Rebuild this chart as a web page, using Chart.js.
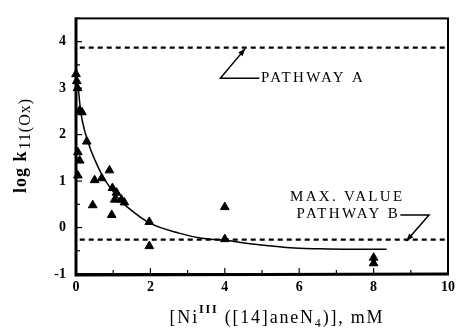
<!DOCTYPE html>
<html>
<head>
<meta charset="utf-8">
<script src="https://cdn.jsdelivr.net/npm/chart.js@4.4.1/dist/chart.umd.min.js"></script>
<style>
  html, body { margin: 0; padding: 0; background: #fff; }
  #wrap { width: 460px; height: 328px; position: relative; }
</style>
</head>
<body>
<div id="wrap"><canvas id="chart"></canvas></div>
<script>
// measured log k11(Ox) values vs [Ni(III)] concentration (mM)
const concX = [0.0, 0.02, 0.04, 0.1, 0.16, 0.29, 0.05, 0.1, 0.05, 0.5, 0.45, 0.69, 0.9, 0.98, 0.96, 1.04, 1.09, 1.22, 1.3, 1.97, 1.97, 4.0, 4.0, 8.0, 8.0];
const logK = [3.3, 3.15, 3.0, 2.52, 2.48, 1.85, 1.62, 1.44, 1.12, 1.02, 0.48, 1.06, 1.23, 0.85, 0.27, 0.6, 0.75, 0.6, 0.54, 0.12, -0.4, 0.44, -0.25, -0.65, -0.77];

// fitted curve
const fitX = [0.0, 0.05, 0.13, 0.24, 0.37, 0.55, 0.72, 0.9, 1.17, 1.44, 1.97, 2.77, 3.38, 3.96, 4.8, 5.87, 6.76, 8.35];
const fitY = [3.5, 3.1, 2.48, 2.06, 1.73, 1.38, 1.1, 0.88, 0.6, 0.4, 0.1, -0.12, -0.23, -0.27, -0.36, -0.44, -0.46, -0.47];

// reference levels
const pathwayAX = [0.1, 10];
const pathwayAY = [3.87, 3.87];
const pathwayBX = [0.1, 10];
const pathwayBY = [-0.26, -0.26];

const xTicks = [0, 2, 4, 6, 8, 10];
const yTicks = [-1, 0, 1, 2, 3, 4];

const SERIF = "'Liberation Serif', 'DejaVu Serif', serif";

function pts(xs, ys) {
    return xs.map((x, i) => ({ x: x, y: ys[i] }));
}

function arrowHead(ctx, x0, y0, x1, y1, size) {
    const a = Math.atan2(y1 - y0, x1 - x0);
    ctx.beginPath();
    ctx.moveTo(x1, y1);
    ctx.lineTo(x1 - size * Math.cos(a - 0.35), y1 - size * Math.sin(a - 0.35));
    ctx.lineTo(x1 - size * Math.cos(a + 0.35), y1 - size * Math.sin(a + 0.35));
    ctx.closePath();
    ctx.fill();
}

// frame, inward ticks, titles and the two labels with arrows
const decorations = {
    id: 'decorations',
    afterDraw(chart) {
        const ctx = chart.ctx;
        const xs = chart.scales.x, ys = chart.scales.y;
        const a = chart.chartArea;
        ctx.save();
        ctx.strokeStyle = '#000';
        ctx.fillStyle = '#000';

        // ticks
        ctx.lineWidth = 1.2;
        for (let v = 0; v <= 10; v += 1) {
            const px = xs.getPixelForValue(v);
            const len = v % 2 === 0 ? 6 : 4;
            ctx.beginPath(); ctx.moveTo(px, a.bottom); ctx.lineTo(px, a.bottom - len); ctx.stroke();
        }
        for (let v = -1; v <= 4.5; v += 0.5) {
            const py = ys.getPixelForValue(v);
            const len = Number.isInteger(v) ? 6 : 4;
            ctx.beginPath(); ctx.moveTo(a.left, py); ctx.lineTo(a.left + len, py); ctx.stroke();
        }

        // frame
        ctx.lineWidth = 2;
        ctx.strokeRect(a.left, a.top, a.right - a.left, a.bottom - a.top);
        ctx.lineWidth = 3;
        ctx.beginPath(); ctx.moveTo(a.left, a.top - 1); ctx.lineTo(a.left, a.bottom + 1); ctx.lineTo(a.right + 1, a.bottom); ctx.stroke();

        // y title: log k11(Ox)
        ctx.save();
        ctx.translate(26, 146);
        ctx.rotate(-Math.PI / 2);
        ctx.textBaseline = 'alphabetic';
        ctx.textAlign = 'left';
        ctx.letterSpacing = '1px';
        ctx.font = 'bold 18px ' + SERIF;
        const main = 'log k';
        const sub = '11(Ox)';
        const mw = ctx.measureText(main).width;
        ctx.font = '16px ' + SERIF;
        const sw = ctx.measureText(sub).width;
        let x0 = -(mw + sw) / 2;
        ctx.font = 'bold 18px ' + SERIF;
        ctx.fillText(main, x0, 0);
        ctx.font = '16px ' + SERIF;
        ctx.fillText(sub, x0 + mw + 1, 4);
        ctx.restore();

        // x title: [NiIII([14]aneN4)], mM
        const parts = [
            { t: '[Ni', f: '18px ' + SERIF, dy: 0 },
            { t: 'III', f: 'bold 12px ' + SERIF, dy: -10 },
            { t: ' ([14]aneN', f: '18px ' + SERIF, dy: 0 },
            { t: '4', f: '12px ' + SERIF, dy: 4 },
            { t: ')], mM', f: '18px ' + SERIF, dy: 0 }
        ];
        ctx.textAlign = 'left';
        ctx.textBaseline = 'alphabetic';
        ctx.letterSpacing = '1.8px';
        let total = 0;
        parts.forEach(p => { ctx.font = p.f; p.w = ctx.measureText(p.t).width; total += p.w; });
        let cx = 277 - total / 2;
        parts.forEach(p => { ctx.font = p.f; ctx.fillText(p.t, cx, 323 + p.dy); cx += p.w; });

        // PATHWAY A label + arrow
        ctx.font = '15px ' + SERIF;
        ctx.letterSpacing = '2.3px';
        ctx.textBaseline = 'middle';
        ctx.textAlign = 'left';
        ctx.fillText('PATHWAY A', xs.getPixelForValue(4.97), ys.getPixelForValue(3.21));
        ctx.lineWidth = 1.5;
        let ax0 = xs.getPixelForValue(4.93), ay0 = ys.getPixelForValue(3.21);
        let ax1 = xs.getPixelForValue(3.88);
        let ax2 = xs.getPixelForValue(4.55), ay2 = ys.getPixelForValue(3.85);
        ctx.beginPath(); ctx.moveTo(ax0, ay0); ctx.lineTo(ax1, ay0); ctx.lineTo(ax2, ay2); ctx.stroke();
        arrowHead(ctx, ax1, ay0, ax2, ay2, 8);

        // MAX. VALUE PATHWAY B label + arrow
        ctx.textAlign = 'center';
        ctx.fillText('MAX. VALUE', xs.getPixelForValue(7.29), ys.getPixelForValue(0.65));
        ctx.fillText('PATHWAY B', xs.getPixelForValue(7.32), ys.getPixelForValue(0.29));
        let bx0 = xs.getPixelForValue(8.72), by0 = ys.getPixelForValue(0.27);
        let bx1 = xs.getPixelForValue(9.49);
        let bx2 = xs.getPixelForValue(8.88), by2 = ys.getPixelForValue(-0.29);
        ctx.beginPath(); ctx.moveTo(bx0, by0); ctx.lineTo(bx1, by0); ctx.lineTo(bx2, by2); ctx.stroke();
        arrowHead(ctx, bx1, by0, bx2, by2, 8);

        ctx.restore();
    }
};

const ctx = document.getElementById('chart').getContext('2d');
new Chart(ctx, {
    type: 'scatter',
    data: {
        datasets: [
            {
                label: 'Pathway A',
                data: pts(pathwayAX, pathwayAY),
                showLine: true,
                borderColor: '#000',
                borderWidth: 2.2,
                borderDash: [5, 4],
                pointRadius: 0
            },
            {
                label: 'Pathway B',
                data: pts(pathwayBX, pathwayBY),
                showLine: true,
                borderColor: '#000',
                borderWidth: 2.2,
                borderDash: [5, 4],
                pointRadius: 0
            },
            {
                label: 'Fit',
                data: pts(fitX, fitY),
                showLine: true,
                borderColor: '#000',
                borderWidth: 1.5,
                cubicInterpolationMode: 'monotone',
                pointRadius: 0
            },
            {
                label: 'log k11(Ox)',
                data: pts(concX, logK),
                pointStyle: 'triangle',
                pointRadius: 5,
                backgroundColor: '#000',
                borderColor: '#000',
                borderWidth: 1,
                clip: 10
            }
        ]
    },
    options: {
        responsive: true,
        maintainAspectRatio: false,
        animation: false,
        layout: { padding: { top: 10, right: 8, left: 0, bottom: 0 } },
        plugins: { legend: { display: false }, tooltip: { enabled: false } },
        scales: {
            x: {
                type: 'linear',
                min: 0,
                max: 10,
                afterBuildTicks: scale => { scale.ticks = xTicks.map(v => ({ value: v })); },
                afterFit: scale => { scale.height = 54; },
                grid: { display: false, drawTicks: false },
                border: { display: false },
                ticks: { color: '#000', padding: 5, font: { family: SERIF, size: 14, weight: 'bold' } }
            },
            y: {
                type: 'linear',
                min: -1,
                max: 4.5,
                afterBuildTicks: scale => { scale.ticks = yTicks.map(v => ({ value: v })); },
                afterFit: scale => { scale.width = 76; },
                grid: { display: false, drawTicks: false },
                border: { display: false },
                ticks: { color: '#000', padding: 10, font: { family: SERIF, size: 14, weight: 'bold' } }
            }
        }
    },
    plugins: [decorations]
});
</script>
</body>
</html>
